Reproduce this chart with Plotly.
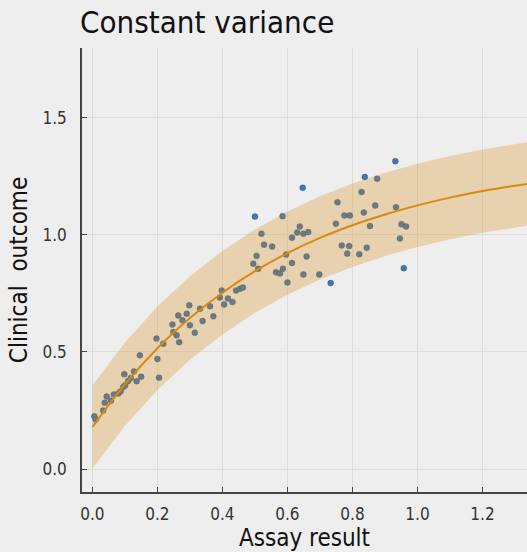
import plotly.graph_objects as go

# observed data
assay = [0.006, 0.010, 0.033, 0.038, 0.044, 0.057, 0.066, 0.080, 0.087, 0.095,
         0.098, 0.101, 0.110, 0.118, 0.128, 0.136, 0.146, 0.150, 0.197, 0.200,
         0.205, 0.218, 0.246, 0.249, 0.259, 0.264, 0.267, 0.277, 0.290, 0.298,
         0.300, 0.315, 0.331, 0.339, 0.362, 0.372, 0.392, 0.398, 0.405, 0.417,
         0.431, 0.442, 0.454, 0.463, 0.495, 0.500, 0.505, 0.510, 0.520, 0.528,
         0.553, 0.565, 0.577, 0.585, 0.586, 0.596, 0.600, 0.614, 0.614, 0.630,
         0.638, 0.647, 0.649, 0.649, 0.659, 0.664, 0.698, 0.733, 0.749, 0.754,
         0.767, 0.775, 0.784, 0.790, 0.792, 0.821, 0.828, 0.835, 0.838, 0.844,
         0.854, 0.870, 0.876, 0.932, 0.934, 0.946, 0.951, 0.958, 0.965]
outcome = [0.225, 0.212, 0.250, 0.283, 0.310, 0.292, 0.318, 0.323, 0.332, 0.350,
           0.405, 0.358, 0.376, 0.389, 0.417, 0.375, 0.486, 0.394, 0.557, 0.470,
           0.390, 0.535, 0.617, 0.585, 0.571, 0.656, 0.542, 0.635, 0.663, 0.699,
           0.614, 0.582, 0.685, 0.632, 0.695, 0.652, 0.733, 0.762, 0.703, 0.728,
           0.713, 0.762, 0.770, 0.775, 0.877, 1.078, 0.910, 0.855, 1.005, 0.958,
           0.950, 0.840, 0.835, 1.080, 0.855, 0.916, 0.797, 0.988, 0.880, 1.010,
           1.036, 1.201, 1.005, 0.831, 0.908, 1.012, 0.831, 0.794, 1.048, 1.139,
           0.955, 1.083, 0.920, 0.952, 1.083, 0.917, 1.183, 1.096, 1.247, 0.945,
           1.038, 1.125, 1.240, 1.314, 1.118, 0.985, 1.045, 0.858, 1.036]

# fitted curve and constant-width band
fit_x = [0.0, 0.1, 0.2, 0.3, 0.4, 0.5, 0.6, 0.7, 0.8, 0.9, 1.0, 1.1, 1.2, 1.3, 1.34]
fit_y = [0.180, 0.362, 0.516, 0.645, 0.753, 0.845, 0.922, 0.987, 1.041, 1.087,
         1.126, 1.159, 1.187, 1.210, 1.218]
band_lo = [0.002, 0.184, 0.338, 0.467, 0.575, 0.667, 0.744, 0.809, 0.863, 0.909,
           0.948, 0.981, 1.009, 1.032, 1.040]
band_hi = [0.358, 0.540, 0.694, 0.823, 0.931, 1.023, 1.100, 1.165, 1.219, 1.265,
           1.304, 1.337, 1.365, 1.388, 1.396]

x_ticks = [0.0, 0.2, 0.4, 0.6, 0.8, 1.0, 1.2]
y_ticks = [0.0, 0.5, 1.0, 1.5]

FONT = "DejaVu Sans Condensed, DejaVu Sans, sans-serif"
BLUE = "#3f76b4"
ORANGE = "#d98a0e"

fig = go.Figure()
fig.add_trace(go.Scatter(x=assay, y=outcome, mode="markers",
                         marker=dict(size=6, color=BLUE,
                                     line=dict(width=0.6, color="rgba(40,60,80,0.5)")),
                         showlegend=False, hoverinfo="skip"))
fig.add_trace(go.Scatter(x=fit_x, y=band_lo, mode="lines", line=dict(width=0),
                         showlegend=False, hoverinfo="skip"))
fig.add_trace(go.Scatter(x=fit_x, y=band_hi, mode="lines", line=dict(width=0),
                         fill="tonexty", fillcolor="rgba(217,138,14,0.28)",
                         showlegend=False, hoverinfo="skip"))
fig.add_trace(go.Scatter(x=fit_x, y=fit_y, mode="lines", line=dict(color=ORANGE, width=2),
                         line_shape="spline", showlegend=False, hoverinfo="skip"))

axis_common = dict(showgrid=True, gridcolor="#dddddd", gridwidth=1, zeroline=False,
                   showline=True, linecolor="#444444", linewidth=1.5,
                   ticks="inside", ticklen=5, tickcolor="#444444", tickwidth=1.2,
                   tickfont=dict(family=FONT, size=17, color="#333333"),
                   mirror=False)

fig.update_layout(
    width=527, height=552,
    margin=dict(l=82, r=0, t=48, b=60),
    paper_bgcolor="#eeeeee", plot_bgcolor="#eeeeee",
    title=dict(text="Constant variance", x=80 / 527, xanchor="left",
               y=1 - 33 / 552, yanchor="bottom", yref="container",
               font=dict(family=FONT, size=31, color="#111111")),
    xaxis=dict(range=[-0.032, 1.337], tickvals=x_ticks,
               ticktext=[f"{v:.1f}" for v in x_ticks], ticklabelstandoff=6,
               title=dict(text="Assay result", standoff=2,
                          font=dict(family=FONT, size=24, color="#111111")),
               **axis_common),
    yaxis=dict(range=[-0.098, 1.798], tickvals=y_ticks,
               ticktext=[f"{v:.1f}" for v in y_ticks], ticklabelstandoff=10,
               title=dict(text="Clinical\u00a0\u00a0outcome", standoff=8,
                          font=dict(family=FONT, size=24, color="#111111")),
               **axis_common),
)

fig.write_html("out.html")
